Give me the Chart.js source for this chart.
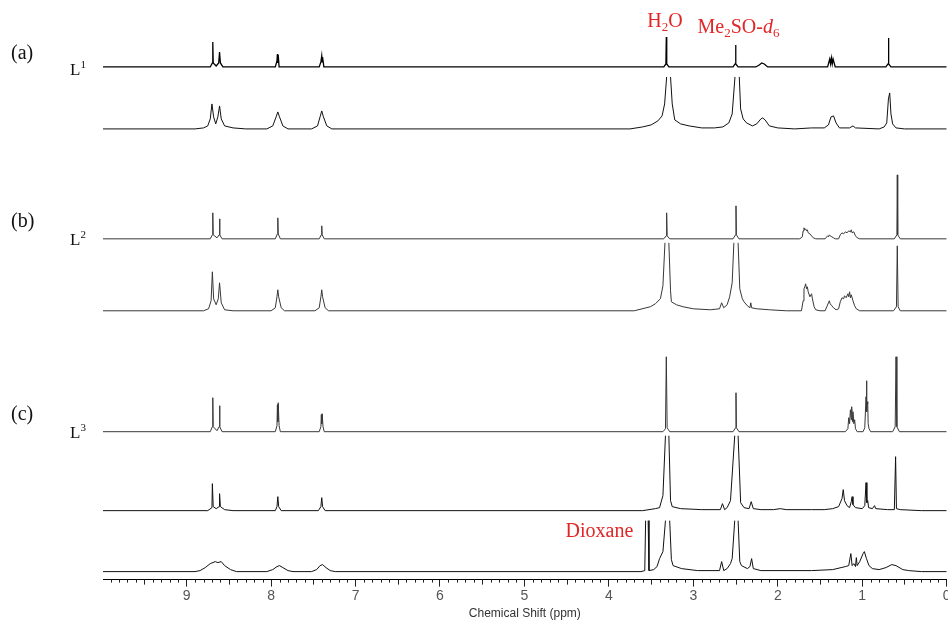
<!DOCTYPE html>
<html>
<head>
<meta charset="utf-8">
<script src="https://cdn.jsdelivr.net/npm/chart.js@4.4.1/dist/chart.umd.min.js"></script>
<style>
    html, body { margin: 0; padding: 0; background: #fff; overflow: hidden; }
    #wrap { position: relative; width: 960px; height: 621px; }
</style>
</head>
<body>
<div id="wrap"><canvas id="nmrChart"></canvas></div>
<script>
// ppm axis
var ppmMin = 0;
var ppmMax = 9.99;
var tickLabels = ['0', '1', '2', '3', '4', '5', '6', '7', '8', '9'];

// baseline of each trace, in px above the ppm axis (top to bottom)
var traceOffsets = [513, 451, 341, 269, 148, 69, 8];
var traceColors = ['#000', '#111', '#383838', '#383838', '#383838', '#111', '#111'];
var traceWidths = [1.3, 1, 1, 1, 1, 1, 1];

// [ppm, intensity], null = clipped peak top
var traceL1 = [[10,0],[8.72,0],[8.695,4],[8.69,25],[8.685,4],[8.65,1],[8.62,4],[8.61,15],[8.60,4],[8.57,0],
    [7.95,0],[7.93,6],[7.925,13],[7.92,4],[7.915,12],[7.905,0],
    [7.43,0],[7.41,5],[7.40,11],[7.395,5],[7.39,10],[7.375,0],
    [3.35,0],[3.325,3],[3.32,30],[3.315,3],[3.29,0],
    [2.53,0],[2.505,3],[2.50,22],[2.495,3],[2.47,0],
    [2.26,0],[2.22,2],[2.19,4],[2.16,3],[2.12,0],
    [1.41,0],[1.385,8],[1.375,3],[1.365,9],[1.355,3],[1.345,8],[1.32,0],
    [0.72,0],[0.695,3],[0.69,29],[0.685,3],[0.66,0],[0,0]];

var traceL1b = [[10,0],[8.9,0],[8.8,1],[8.75,3],[8.72,10],[8.70,25],[8.68,12],[8.655,5],[8.63,12],[8.61,23],[8.59,10],[8.55,3],[8.45,1],[8.3,0],
    [8.05,0],[7.98,3],[7.94,12],[7.92,17],[7.90,12],[7.86,3],[7.8,0],
    [7.52,0],[7.45,3],[7.42,12],[7.40,18],[7.38,12],[7.34,3],[7.28,0],
    [3.75,0],[3.6,2],[3.5,4],[3.42,8],[3.37,13],[3.34,25],[3.316,52],[3.295,null],[3.27,52],[3.25,25],[3.22,9],[3.15,5],[3.05,3],[2.9,1],
    [2.75,1],[2.65,2],[2.58,6],[2.54,15],[2.507,52],[2.48,null],[2.456,52],[2.44,20],[2.41,10],[2.37,6],[2.3,3],
    [2.25,5],[2.2,10],[2.18,11],[2.15,9],[2.10,3],[2.0,1],[1.8,0],[1.6,1],[1.45,1],
    [1.40,4],[1.37,12],[1.34,13],[1.31,6],[1.27,1],[1.15,1],[1.11,3],[1.08,1],[0.8,0],
    [0.74,2],[0.71,6],[0.69,30],[0.675,36],[0.66,15],[0.64,5],[0.6,1],[0.5,0],[0,0]];

var traceL2 = [[10,0],[8.72,0],[8.695,4],[8.69,26],[8.685,4],[8.64,1],[8.615,4],[8.61,20],[8.605,4],[8.58,0],
    [7.95,0],[7.925,5],[7.92,21],[7.915,5],[7.89,0],
    [7.43,0],[7.405,4],[7.40,13],[7.395,4],[7.37,0],
    [3.35,0],[3.322,3],[3.316,26],[3.31,3],[3.28,0],
    [2.53,0],[2.50,4],[2.495,33],[2.49,4],[2.46,0],
    [1.74,0],[1.71,2],[1.70,8],[1.69,11],[1.68,9],[1.67,10],[1.66,8],[1.65,9],[1.64,6],[1.62,5],[1.60,3],[1.58,1],[1.55,0],
    [1.44,0],[1.42,2],[1.41,3],[1.40,2],[1.39,4],[1.38,3],[1.36,2],[1.34,1],[1.32,0],
    [1.28,0],[1.26,4],[1.24,6],[1.22,5],[1.20,7],[1.18,6],[1.16,8],[1.14,7],[1.13,9],[1.12,6],[1.10,7],[1.08,3],[1.06,1],[1.03,0],
    [0.62,0],[0.59,4],[0.585,64],[0.58,4],[0.55,0],[0,0]];

var traceL2b = [[10,0],[8.8,0],[8.74,2],[8.71,10],[8.695,39],[8.68,12],[8.65,6],[8.625,12],[8.61,28],[8.59,8],[8.55,1],[8.45,0],
    [8.0,0],[7.95,3],[7.93,14],[7.92,21],[7.91,14],[7.88,3],[7.84,0],
    [7.48,0],[7.43,3],[7.41,14],[7.40,21],[7.39,14],[7.36,3],[7.32,0],
    [3.7,0],[3.51,4],[3.45,7],[3.39,12],[3.36,25],[3.336,68],[3.31,null],[3.29,68],[3.27,20],[3.26,9],[3.2,6],[3.12,4],[3.0,2],[2.8,1],
    [2.69,2],[2.665,8],[2.64,3],[2.60,6],[2.57,14],[2.54,28],[2.52,68],[2.495,null],[2.47,68],[2.45,22],[2.42,12],[2.40,9],[2.36,5],
    [2.33,3],[2.32,8],[2.31,3],[2.25,2],[2.1,1],[1.9,0],
    [1.72,0],[1.70,10],[1.69,22],[1.68,24],[1.67,27],[1.66,22],[1.65,24],[1.64,19],[1.62,14],[1.60,17],[1.59,12],[1.57,4],[1.55,1],[1.5,0],
    [1.44,0],[1.42,4],[1.40,8],[1.39,10],[1.38,7],[1.36,5],[1.34,3],[1.31,1],
    [1.28,2],[1.26,9],[1.24,13],[1.22,12],[1.21,15],[1.19,13],[1.17,17],[1.16,14],[1.15,19],[1.14,13],[1.13,16],[1.11,10],[1.09,5],[1.07,2],[1.03,0],
    [0.63,0],[0.595,4],[0.585,65],[0.575,4],[0.55,0],[0,0]];

var traceL3 = [[10,0],[8.72,0],[8.695,5],[8.69,34],[8.685,5],[8.64,1],[8.615,5],[8.61,26],[8.605,5],[8.58,0],
    [7.95,0],[7.93,6],[7.925,27],[7.92,10],[7.915,29],[7.905,6],[7.89,0],
    [7.43,0],[7.41,5],[7.405,17],[7.40,8],[7.395,18],[7.385,5],[7.37,0],
    [3.36,0],[3.33,3],[3.32,75],[3.31,4],[3.295,2],[3.28,0],
    [2.53,0],[2.50,4],[2.495,39],[2.49,4],[2.46,0],
    [1.20,0],[1.17,3],[1.16,14],[1.15,8],[1.14,22],[1.13,12],[1.125,25],[1.115,10],[1.11,20],[1.10,8],[1.09,12],[1.08,3],[1.06,0],
    [0.99,0],[0.97,4],[0.955,35],[0.95,51],[0.945,20],[0.94,30],[0.935,28],[0.93,8],[0.92,3],[0.90,0],
    [0.64,0],[0.61,5],[0.60,75],[0.59,5],[0.56,0],[0,0]];

var traceL3b = [[10,0],[8.75,0],[8.70,3],[8.695,27],[8.685,4],[8.65,2],[8.615,4],[8.61,17],[8.60,4],[8.55,1],[8.45,0],
    [7.95,0],[7.93,4],[7.92,14],[7.91,4],[7.88,0],
    [7.44,0],[7.41,4],[7.40,13],[7.39,4],[7.36,0],
    [3.6,0],[3.45,2],[3.40,3],[3.36,15],[3.33,75],[3.31,null],[3.29,75],[3.27,10],[3.25,4],[3.15,2],[2.9,1],
    [2.68,1],[2.655,7],[2.63,1],[2.60,3],[2.56,10],[2.51,75],[2.49,null],[2.47,75],[2.44,8],[2.40,3],[2.34,2],[2.315,9],[2.29,2],
    [2.2,1],[2.05,1],[1.97,2],[1.9,1],[1.6,1],[1.45,1],[1.35,2],[1.28,4],[1.24,12],[1.225,21],[1.21,10],[1.18,5],[1.15,3],
    [1.13,9],[1.12,14],[1.11,6],[1.08,3],[1.0,2],[0.97,5],[0.955,28],[0.945,8],[0.935,10],[0.925,3],[0.88,2],[0.855,5],[0.84,2],
    [0.7,1],[0.62,1],[0.605,54],[0.595,2],[0.55,1],[0.3,0],[0,0]];

var traceL3c = [[10,0],[8.9,0],[8.84,1],[8.78,4],[8.72,8],[8.66,10],[8.63,9],[8.59,10],[8.55,6],[8.48,2],[8.41,0],
    [8.05,0],[7.98,2],[7.93,5],[7.90,6],[7.86,4],[7.80,1],[7.74,0],
    [7.52,0],[7.46,2],[7.42,6],[7.39,7],[7.35,4],[7.30,1],[7.24,0],
    [3.62,0],[3.575,1],[3.565,51],[3.55,null],[3.535,51],[3.525,1],[3.47,2],[3.43,5],[3.40,13],[3.36,20],[3.33,51],[3.305,null],[3.28,51],
    [3.26,12],[3.24,6],[3.14,3],[2.95,1],[2.69,1],[2.665,10],[2.64,1],[2.6,3],[2.56,8],[2.54,13],[2.51,51],[2.49,null],[2.47,51],
    [2.45,10],[2.43,6],[2.36,3],[2.33,5],[2.31,13],[2.29,3],[2.2,1],[1.6,1],[1.35,2],[1.25,4],[1.20,5],[1.16,6],[1.135,18],[1.12,6],
    [1.10,8],[1.08,5],[1.07,14],[1.06,6],[1.03,10],[0.99,18],[0.975,20],[0.95,13],[0.92,6],[0.88,3],[0.80,2],[0.72,4],[0.65,7],
    [0.60,6],[0.52,2],[0.45,1],[0.3,0],[0,0]];

var traces = [traceL1, traceL1b, traceL2, traceL2b, traceL3, traceL3b, traceL3c];

var datasets = traces.map(function (pts, i) {
    return {
        data: pts.map(function (p) {
            return { x: p[0], y: p[1] === null ? null : p[1] + traceOffsets[i] };
        }),
        borderColor: traceColors[i],
        borderWidth: traceWidths[i],
        pointRadius: 0,
        tension: 0,
        spanGaps: false,
        fill: false
    };
});

// draws rich text (sub/superscripts, italics) left to right
function drawParts(ctx, parts, x, y, color) {
    ctx.fillStyle = color;
    ctx.textBaseline = 'alphabetic';
    ctx.textAlign = 'left';
    parts.forEach(function (p) {
        ctx.font = (p.italic ? 'italic ' : '') + p.size + 'px "Liberation Serif", "Times New Roman", serif';
        ctx.fillText(p.t, x, y + (p.dy || 0));
        x += ctx.measureText(p.t).width;
    });
}

var minorTicks = {
    id: 'minorTicks',
    afterDraw: function (chart) {
        var ctx = chart.ctx;
        var xs = chart.scales.x;
        var y0 = chart.chartArea.bottom;
        ctx.save();
        ctx.strokeStyle = '#222';
        ctx.lineWidth = 1;
        for (var i = 1; i < 100; i++) {
            if (i % 10 === 0) continue;
            var len = (i % 5 === 0) ? 5 : 3;
            var px = Math.round(xs.getPixelForValue(i / 10)) + 0.5;
            ctx.beginPath();
            ctx.moveTo(px, y0);
            ctx.lineTo(px, y0 + len);
            ctx.stroke();
        }
        ctx.restore();
    }
};

var labels = {
    id: 'labels',
    afterDraw: function (chart) {
        var ctx = chart.ctx;
        var xs = chart.scales.x;
        ctx.save();
        var black = '#111';
        drawParts(ctx, [{t: '(a)', size: 20}], 11, 59, black);
        drawParts(ctx, [{t: '(b)', size: 20}], 11, 227, black);
        drawParts(ctx, [{t: '(c)', size: 20}], 11, 420, black);
        drawParts(ctx, [{t: 'L', size: 17}, {t: '1', size: 11, dy: -7}], 70, 75, black);
        drawParts(ctx, [{t: 'L', size: 17}, {t: '2', size: 11, dy: -7}], 70, 245, black);
        drawParts(ctx, [{t: 'L', size: 17}, {t: '3', size: 11, dy: -7}], 70, 438, black);
        var red = '#e12626';
        drawParts(ctx, [{t: 'H', size: 20}, {t: '2', size: 13, dy: 4}, {t: 'O', size: 20}],
            xs.getPixelForValue(3.32) - 19, 27, red);
        drawParts(ctx, [{t: 'Me', size: 20}, {t: '2', size: 13, dy: 4}, {t: 'SO-', size: 20},
            {t: 'd', size: 20, italic: true}, {t: '6', size: 13, dy: 4}],
            xs.getPixelForValue(2.50) - 38, 33, red);
        drawParts(ctx, [{t: 'Dioxane', size: 20}], xs.getPixelForValue(3.565) - 80, 537, red);
        ctx.restore();
    }
};

new Chart(document.getElementById('nmrChart'), {
    type: 'line',
    data: { datasets: datasets },
    options: {
        responsive: true,
        maintainAspectRatio: false,
        animation: false,
        parsing: true,
        layout: { padding: { left: 103, right: 13.3, top: 0, bottom: 0 } },
        plugins: { legend: { display: false }, tooltip: { enabled: false } },
        elements: { line: { borderJoinStyle: 'miter' } },
        scales: {
            x: {
                type: 'linear',
                reverse: true,
                min: ppmMin,
                max: ppmMax,
                border: { display: true, color: '#000', width: 1 },
                grid: { display: true, drawOnChartArea: false, drawTicks: true, tickLength: 7, color: '#222' },
                ticks: {
                    stepSize: 1,
                    includeBounds: false,
                    autoSkip: false,
                    maxRotation: 0,
                    padding: 3,
                    color: '#555',
                    font: { family: '"Liberation Sans", Arial, sans-serif', size: 14, lineHeight: 1 },
                    callback: function (v) {
                        return Number.isInteger(v) ? tickLabels[v] : '';
                    }
                },
                title: {
                    display: true,
                    text: 'Chemical Shift (ppm)',
                    color: '#333',
                    padding: { top: 0, bottom: 0 },
                    font: { family: '"Liberation Sans", Arial, sans-serif', size: 12 }
                }
            },
            y: { display: false, min: 0, max: 580 }
        }
    },
    plugins: [minorTicks, labels]
});
</script>
</body>
</html>
